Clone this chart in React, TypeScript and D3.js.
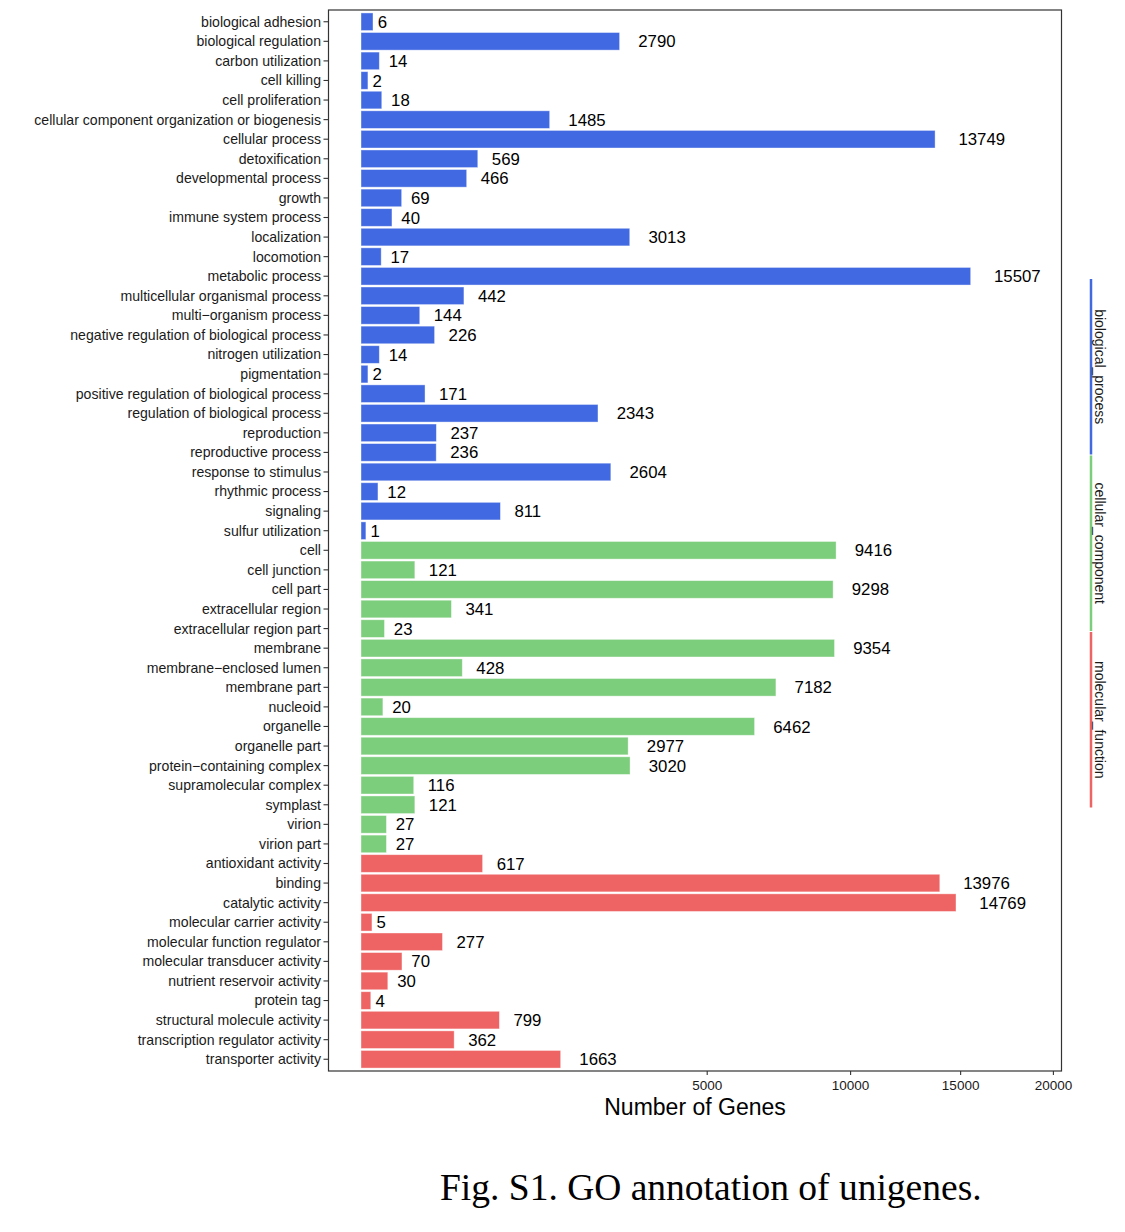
import React from "react";
import * as d3 from "d3";

const bpCategories = [
  "biological adhesion", "biological regulation", "carbon utilization", "cell killing",
  "cell proliferation", "cellular component organization or biogenesis", "cellular process",
  "detoxification", "developmental process", "growth", "immune system process", "localization",
  "locomotion", "metabolic process", "multicellular organismal process", "multi−organism process",
  "negative regulation of biological process", "nitrogen utilization", "pigmentation",
  "positive regulation of biological process", "regulation of biological process", "reproduction",
  "reproductive process", "response to stimulus", "rhythmic process", "signaling", "sulfur utilization",
];
const bpValues = [
  6, 2790, 14, 2, 18, 1485, 13749, 569, 466, 69, 40, 3013, 17, 15507, 442, 144, 226, 14, 2, 171,
  2343, 237, 236, 2604, 12, 811, 1,
];
const ccCategories = [
  "cell", "cell junction", "cell part", "extracellular region", "extracellular region part",
  "membrane", "membrane−enclosed lumen", "membrane part", "nucleoid", "organelle", "organelle part",
  "protein−containing complex", "supramolecular complex", "symplast", "virion", "virion part",
];
const ccValues = [9416, 121, 9298, 341, 23, 9354, 428, 7182, 20, 6462, 2977, 3020, 116, 121, 27, 27];
const mfCategories = [
  "antioxidant activity", "binding", "catalytic activity", "molecular carrier activity",
  "molecular function regulator", "molecular transducer activity", "nutrient reservoir activity",
  "protein tag", "structural molecule activity", "transcription regulator activity",
  "transporter activity",
];
const mfValues = [617, 13976, 14769, 5, 277, 70, 30, 4, 799, 362, 1663];

const groupNames = ["biological_process", "cellular_component", "molecular_function"];
const groupColors = ["#4169E1", "#7CCD7C", "#EE6363"];
const xTicks = [5000, 10000, 15000, 20000];

const xTitle = "Number of Genes";
const caption = "Fig. S1. GO annotation of unigenes.";

type Row = { label: string; value: number; group: number };

const rows: Row[] = [
  ...bpCategories.map((c, i) => ({ label: c, value: bpValues[i], group: 0 })),
  ...ccCategories.map((c, i) => ({ label: c, value: ccValues[i], group: 1 })),
  ...mfCategories.map((c, i) => ({ label: c, value: mfValues[i], group: 2 })),
];

const SANS = "'Liberation Sans', Arial, Helvetica, sans-serif";
const SERIF = "'Liberation Serif', 'Times New Roman', Times, serif";

export default function App() {
  const W = 1125;
  const H = 1232;
  const panel = { left: 328.5, right: 1061.5, top: 10, bottom: 1071 };

  const y = d3
    .scalePoint<string>()
    .domain(rows.map((r) => r.label))
    .range([panel.top, panel.bottom])
    .padding(0.6);
  const step = y.step();
  const barH = step * 0.9;

  const x = d3.scaleSqrt().domain([0, 20000]).range([361, 361 + 4.896 * Math.sqrt(20000)]);

  const valueFont = 16.8;
  const legendX = 1091;
  const legendTop = 279;
  const legendLen = 176.5;

  return (
    <svg
      width={W}
      height={H}
      style={{ position: "absolute", left: 0, top: 0, background: "#fff" }}
      fontFamily={SANS}
    >
      <rect x={0} y={0} width={W} height={H} fill="#fff" />
      {/* bars */}
      {rows.map((r) => {
        const cy = y(r.label)!;
        const x1 = x(r.value);
        return (
          <g key={r.label}>
            <rect
              x={x(0)}
              y={cy - barH / 2}
              width={x1 - x(0)}
              height={barH}
              fill={groupColors[r.group]}
              stroke="#ffffff"
              strokeOpacity={0.5}
              strokeWidth={0.8}
            />
            <text
              x={x1 + 0.5 * String(r.value).length * 0.556 * valueFont}
              y={cy}
              dy="0.36em"
              fontSize={valueFont}
              fill="#000"
            >
              {r.value}
            </text>
          </g>
        );
      })}
      {/* panel border */}
      <rect
        x={panel.left}
        y={panel.top}
        width={panel.right - panel.left}
        height={panel.bottom - panel.top}
        fill="none"
        stroke="#333"
        strokeWidth={1.2}
      />
      {/* y axis ticks and labels */}
      {rows.map((r) => {
        const cy = y(r.label)!;
        return (
          <g key={"t" + r.label}>
            <line x1={panel.left - 5} x2={panel.left} y1={cy} y2={cy} stroke="#333" strokeWidth={1.1} />
            <text x={panel.left - 7.5} y={cy} dy="0.35em" textAnchor="end" fontSize={14.1} fill="#1a1a1a">
              {r.label}
            </text>
          </g>
        );
      })}
      {/* x axis ticks */}
      {xTicks.map((t) => (
        <g key={"x" + t}>
          <line x1={x(t)} x2={x(t)} y1={panel.bottom} y2={panel.bottom + 4} stroke="#333" strokeWidth={1.1} />
          <text x={x(t)} y={panel.bottom + 19} textAnchor="middle" fontSize={13.5} fill="#1a1a1a">
            {t}
          </text>
        </g>
      ))}
      <text
        x={(panel.left + panel.right) / 2}
        y={1115}
        textAnchor="middle"
        fontSize={23}
        fill="#000"
      >
        {xTitle}
      </text>
      {/* group strip legend */}
      {groupNames.map((g, i) => {
        const y0 = legendTop + i * legendLen;
        const y1 = y0 + legendLen - 1;
        const mid = (y0 + y1) / 2;
        return (
          <g key={g}>
            <line x1={legendX} x2={legendX} y1={y0} y2={y1} stroke={groupColors[i]} strokeWidth={2.5} />
            <text
              transform={`translate(${legendX + 9},${mid}) rotate(90)`}
              textAnchor="middle"
              dy="0.35em"
              fontSize={14}
              fill="#1a1a1a"
            >
              {g}
            </text>
          </g>
        );
      })}
      {/* caption */}
      <text x={440} y={1200} fontFamily={SERIF} fontSize={37.5} fill="#000">
        {caption}
      </text>
    </svg>
  );
}
